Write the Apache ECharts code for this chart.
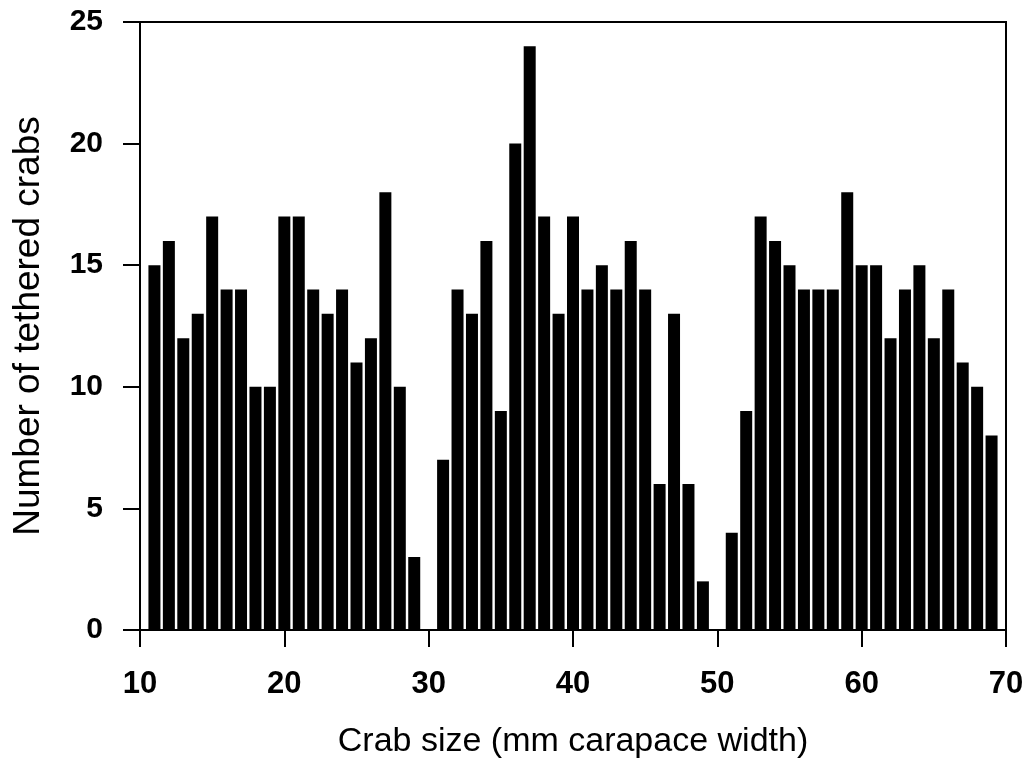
<!DOCTYPE html>
<html>
<head>
<meta charset="utf-8">
<script src="https://cdn.jsdelivr.net/npm/echarts@6/dist/echarts.min.js"></script>
<style>
  html, body { margin: 0; padding: 0; background: #fff; }
  #container { width: 1033px; height: 768px; }
</style>
</head>
<body>
<div id="container"></div>
<script>
// crab size (mm carapace width)
var sizes = [11, 12, 13, 14, 15, 16, 17, 18, 19, 20,
  21, 22, 23, 24, 25, 26, 27, 28, 29, 30,
  31, 32, 33, 34, 35, 36, 37, 38, 39, 40,
  41, 42, 43, 44, 45, 46, 47, 48, 49, 50,
  51, 52, 53, 54, 55, 56, 57, 58, 59, 60,
  61, 62, 63, 64, 65, 66, 67, 68, 69];
// number of tethered crabs
var counts = [15, 16, 12, 13, 17, 14, 14, 10, 10, 17,
  17, 14, 13, 14, 11, 12, 18, 10, 3, 0,
  7, 14, 13, 16, 9, 20, 24, 17, 13, 17,
  14, 15, 14, 16, 14, 6, 13, 6, 2, 0,
  4, 9, 17, 16, 15, 14, 14, 14, 18, 15,
  15, 12, 14, 15, 12, 14, 11, 10, 8];

var dom = document.getElementById("container");
var myChart = echarts.init(dom, null, { renderer: "canvas" });

var font = "Liberation Sans, Arial, sans-serif";

var option = {
  animation: false,
  grid: {
    show: true,
    left: 140,
    right: 27,
    top: 22,
    bottom: 138,
    borderColor: "#000",
    borderWidth: 2,
    containLabel: false
  },
  xAxis: {
    type: "value",
    min: 10,
    max: 70,
    interval: 10,
    name: "Crab size (mm carapace width)",
    nameLocation: "middle",
    nameGap: 95,
    nameTextStyle: { color: "#000", fontSize: 34, fontFamily: font },
    axisLine: { lineStyle: { color: "#000", width: 2 } },
    axisTick: { show: true, length: 17, lineStyle: { color: "#000", width: 2 } },
    axisLabel: { color: "#000", fontSize: 31, fontWeight: "bold", fontFamily: font, margin: 39 },
    splitLine: { show: false }
  },
  yAxis: {
    type: "value",
    min: 0,
    max: 25,
    interval: 5,
    name: "Number of tethered crabs",
    nameLocation: "middle",
    nameGap: 93,
    nameTextStyle: { color: "#000", fontSize: 37, fontFamily: font },
    axisLine: { show: true, lineStyle: { color: "#000", width: 2 } },
    axisTick: { show: true, length: 17, lineStyle: { color: "#000", width: 2 } },
    axisLabel: { color: "#000", fontSize: 30, fontWeight: "bold", fontFamily: font, margin: 37 },
    splitLine: { show: false }
  },
  series: [
    {
      type: "bar",
      barWidth: 12,
      itemStyle: { color: "#000" },
      data: sizes.map(function (s, i) { return [s, counts[i]]; })
    }
  ]
};

myChart.setOption(option);
window.addEventListener("resize", myChart.resize);
</script>
</body>
</html>
